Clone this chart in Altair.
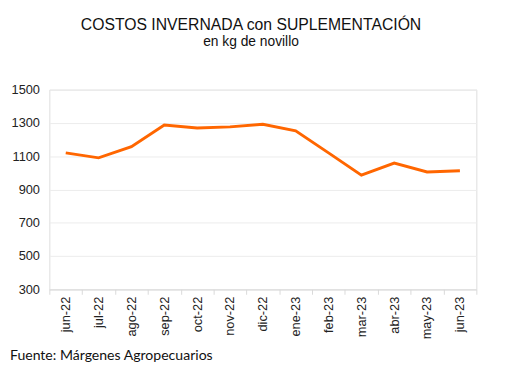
import altair as alt
import pandas as pd

months = ["jun-22", "jul-22", "ago-22", "sep-22", "oct-22", "nov-22", "dic-22",
          "ene-23", "feb-23", "mar-23", "abr-23", "may-23", "jun-23"]
values = [1120, 1090, 1157, 1287, 1270, 1276, 1292, 1252, 1120, 986, 1059, 1005, 1013]
y_ticks = [300, 500, 700, 900, 1100, 1300, 1500]
source_note = ["Fuente: Márgenes Agropecuarios"]

df = pd.DataFrame({"mes": months, "valor": values})
note_df = pd.DataFrame({"t": source_note})

W, H = 434, 203

line = alt.Chart(df).mark_line(color="#FF6600", strokeWidth=3).encode(
    x=alt.X("mes:N", sort=months, bandPosition=0.5,
            scale=alt.Scale(type="band", paddingInner=0, paddingOuter=0),
            axis=alt.Axis(title=None, labelAngle=-90, labelFont="Liberation Sans",
                          labelFontSize=13, labelColor="#222", tickBand="extent",
                          ticks=True, tickSize=5, tickColor="#d9d9d9",
                          domainColor="#d9d9d9", labelPadding=2, grid=False)),
    y=alt.Y("valor:Q", scale=alt.Scale(domain=[300, 1500], nice=False, zero=False),
            axis=alt.Axis(title=None, values=y_ticks, format="d", labelFont="Liberation Sans",
                          labelFontSize=13, labelColor="#222", domain=False, ticks=False,
                          labelPadding=10, gridColor="#ececec")),
)

footer = alt.Chart(note_df).mark_text(align="left", baseline="alphabetic", font="Lato",
                                      fontSize=14.3, fontWeight="normal", color="#111").encode(
    x=alt.value(-40), y=alt.value(H + 72), text="t:N"
)

chart = alt.layer(line, footer).properties(
    width=W, height=H,
    title=alt.TitleParams(text="COSTOS INVERNADA con SUPLEMENTACIÓN",
                          subtitle="en kg de novillo", anchor="middle", dx=-12,
                          font="Liberation Sans", fontSize=16, fontWeight="normal",
                          color="#111", subtitleFont="Liberation Sans",
                          subtitleFontSize=14, subtitleColor="#111", offset=35,
                          subtitlePadding=3),
    autosize=alt.AutoSizeParams(type="none"),
    padding={"left": 42, "top": 80, "right": 21, "bottom": 78},
).configure_view(stroke=None, strokeWidth=0, fill=None).configure_axisX(grid=False).configure_axisY(domain=False).configure(background="white")

chart.save("out.html", embed_options={"renderer": "svg", "actions": False})
